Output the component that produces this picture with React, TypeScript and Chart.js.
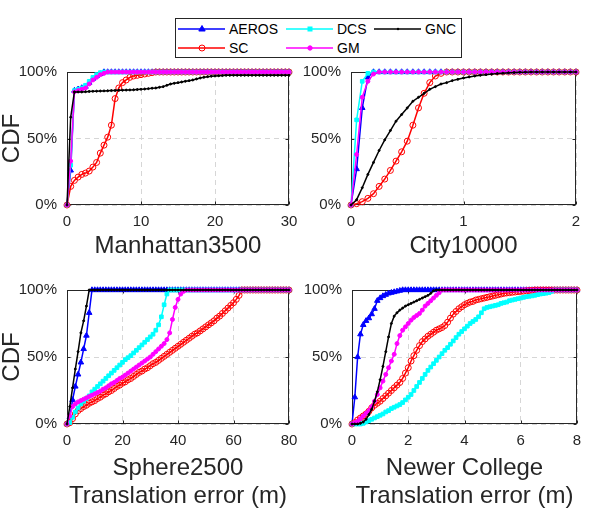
import React, { useEffect, useRef } from 'react';
import { Chart, registerables } from 'chart.js';

Chart.register(...registerables);

const FONT = '"Liberation Sans", Arial, Helvetica, sans-serif';
const TEXT = '#262626';

// ---------- tick labels ----------
const yTickValues = [0, 50, 100];

// ---------- Manhattan3500 (x: 0..30) ----------
const manhattanX = [0,0.5,1,1.5,2,2.5,3,3.5,4,4.5,5,5.5,6,6.5,7,7.5,8,8.5,9,9.5,10,10.5,11,11.5,12,12.5,13,13.5,14,14.5,15,15.5,16,16.5,17,17.5,18,18.5,19,19.5,20,20.5,21,21.5,22,22.5,23,23.5,24,24.5,25,25.5,26,26.5,27,27.5,28,28.5,29,29.5,30];
const manhattanAEROS = [0,26,86,87,88,89,92,95,97,98.5,
  100,100,100,100,100,100,100,100,100,100,
  100,100,100,100,100,100,100,100,100,100,
  100,100,100,100,100,100,100,100,100,100,
  100,100,100,100,100,100,100,100,100,100,
  100,100,100,100,100,100,100,100,100,100,
  100];
const manhattanDCS = [0,30,86,87,88,90,93,96,98,99.5,
  100,100,100,100,100,100,100,100,100,100,
  100,100,100,100,100,100,100,100,100,100,
  100,100,100,100,100,100,100,100,100,100,
  100,100,100,100,100,100,100,100,100,100,
  100,100,100,100,100,100,100,100,100,100,
  100];
const manhattanGM = [0,33,85,86,87,88,91,94,96,98,
  99,100,100,100,100,100,100,100,100,100,
  100,100,100,100,100,100,100,100,100,100,
  100,100,100,100,100,100,100,100,100,100,
  100,100,100,100,100,100,100,100,100,100,
  100,100,100,100,100,100,100,100,100,100,
  100];
const manhattanSC = [0,14,18.5,21,23,24,25.5,28.5,32,39,
  45,51,60,80,88,92,94,96,97,97.5,
  98,98.5,99,99.5,100,100,100,100,100,100,
  100,100,100,100,100,100,100,100,100,100,
  100,100,100,100,100,100,100,100,100,100,
  100,100,100,100,100,100,100,100,100,100,
  100];
const manhattanGNC = [0,66,85,85,85,85.2,85.4,85.5,85.6,85.7,
  85.8,85.9,86,86.1,86.2,86.3,86.4,86.5,86.6,86.8,
  87,87.2,87.5,87.8,88,88.5,89,90,91,91.5,
  92,92.5,93,93.5,94,94.8,95.5,96,96.5,96.8,
  97,97.2,97.3,97.5,97.5,97.5,97.5,97.5,97.5,97.5,
  97.5,97.5,97.5,97.5,97.5,97.5,97.5,97.5,97.5,97.5,
  97.5];

// ---------- City10000 (x: 0..2) ----------
const cityX = [0,0.05,0.1,0.15,0.2,0.25,0.3,0.35,0.4,0.45,0.5,0.55,0.6,0.65,0.7,0.75,0.8,0.85,0.9,0.95,1,1.05,1.1,1.15,1.2,1.25,1.3,1.35,1.4,1.45,1.5,1.55,1.6,1.65,1.7,1.75,1.8,1.85,1.9,1.95,2];
const cityAEROS = [0,27,73,96,100,100,100,100,100,100,
  100,100,100,100,100,100,100,100,100,100,
  100,100,100,100,100,100,100,100,100,100,
  100,100,100,100,100,100,100,100,100,100,
  100];
const cityDCS = [0,64,93,99,100,100,100,100,100,100,
  100,100,100,100,100,100,100,100,100,100,
  100,100,100,100,100,100,100,100,100,100,
  100,100,100,100,100,100,100,100,100,100,
  100];
const cityGM = [0,38,81,93,98.5,100,100,100,100,100,
  100,100,100,100,100,100,100,100,100,100,
  100,100,100,100,100,100,100,100,100,100,
  100,100,100,100,100,100,100,100,100,100,
  100];
const citySC = [0,1,2.5,5,8.5,14,19.5,26,33,40,
  48,60,73,84,92,97,99,100,100,100,
  100,100,100,100,100,100,100,100,100,100,
  100,100,100,100,100,100,100,100,100,100,
  100];
const cityGNC = [0,4,13,23,32,41,49,56,63,68,
  73,78,81,84,87,89,91,92,93.5,94.5,
  95.5,96.3,97,97.5,98,98.4,98.8,99.1,99.4,99.6,
  99.8,99.9,100,100,100,100,100,100,100,100,
  100];

// ---------- Sphere2500 (x: 0..80) ----------
const sphereX = [0,1,2,3,4,5,6,7,8,9,10,11,12,13,14,15,16,17,18,19,20,21,22,23,24,25,26,27,28,29,30,31,32,33,34,35,36,37,38,39,40,41,42,43,44,45,46,47,48,49,50,51,52,53,54,55,56,57,58,59,60,61,62,63,64,65,66,67,68,69,70,71,72,73,74,75,76,77,78,79,80];
const sphereAEROS = [0,5,18,28,37,46,56,66,83,100,
  100,100,100,100,100,100,100,100,100,100,
  100,100,100,100,100,100,100,100,100,100,
  100,100,100,100,100,100,100,100,100,100,
  100,100,100,100,100,100,100,100,100,100,
  100,100,100,100,100,100,100,100,100,100,
  100,100,100,100,100,100,100,100,100,100,
  100,100,100,100,100,100,100,100,100,100,
  100];
const sphereDCS = [0,1,5,9,12,15,17,19,21,24,
  26,28,30,32,34,36,38,40,42,44,
  46,48,49.5,51,53,55,57,59,61,63,
  65,67,70,74,80,89,97,100,100,100,
  100,100,100,100,100,100,100,100,100,100,
  100,100,100,100,100,100,100,100,100,100,
  100,100,100,100,100,100,100,100,100,100,
  100,100,100,100,100,100,100,100,100,100,
  100];
const sphereGM = [0,6,13,15,16.5,17.5,18.5,19.5,20.5,21.5,
  22.5,23.5,24.5,26,27,28.5,30,31,32.5,34,
  35,36.5,38,39.5,41,42.5,44,45.5,47,48.5,
  50,52,54,56,58,60,63,68,78,87,
  93,97,99,100,100,100,100,100,100,100,
  100,100,100,100,100,100,100,100,100,100,
  100,100,100,100,100,100,100,100,100,100,
  100,100,100,100,100,100,100,100,100,100,
  100];
const sphereSC = [0,1,4,7.5,10,11.5,13,14,15.5,16.5,
  17.5,19,20,21.5,22.5,24,25,26.5,28,29,
  30.5,31.5,33,34,35.5,37,38.5,39.5,41,42,
  43.5,45,46,47.5,49,50.5,52,53.5,55,56.5,
  58,59.5,61,62.5,64,65.5,67,68,69.5,71,
  72.5,74,75.5,77,79,80.5,82.5,84.5,86.5,88.5,
  90.5,93,96,100,100,100,100,100,100,100,
  100,100,100,100,100,100,100,100,100,100,
  100];
const sphereGNC = [0,13,27,41,54,68,77,88,100,100,
  100,100,100,100,100,100,100,100,100,100,
  100,100,100,100,100,100,100,100,100,100,
  100,100,100,100,100,100,100,100,100,100,
  100,100,100,100,100,100,100,100,100,100,
  100,100,100,100,100,100,100,100,100,100,
  100,100,100,100,100,100,100,100,100,100,
  100,100,100,100,100,100,100,100,100,100,
  100];

// ---------- Newer College (x: 0..8) ----------
const newerX = [0,0.1,0.2,0.3,0.4,0.5,0.6,0.7,0.8,0.9,1,1.1,1.2,1.3,1.4,1.5,1.6,1.7,1.8,1.9,2,2.1,2.2,2.3,2.4,2.5,2.6,2.7,2.8,2.9,3,3.1,3.2,3.3,3.4,3.5,3.6,3.7,3.8,3.9,4,4.1,4.2,4.3,4.4,4.5,4.6,4.7,4.8,4.9,5,5.1,5.2,5.3,5.4,5.5,5.6,5.7,5.8,5.9,6,6.1,6.2,6.3,6.4,6.5,6.6,6.7,6.8,6.9,7,7.1,7.2,7.3,7.4,7.5,7.6,7.7,7.8,7.9,8];
const newerAEROS = [0,20,50,67,74,77,79,82,86,92,
  94,95.5,96.5,97.5,98,98.5,99,99.5,100,100,
  100,100,100,100,100,100,100,100,100,100,
  100,100,100,100,100,100,100,100,100,100,
  100,100,100,100,100,100,100,100,100,100,
  100,100,100,100,100,100,100,100,100,100,
  100,100,100,100,100,100,100,100,100,100,
  100,100,100,100,100,100,100,100,100,100,
  100];
const newerDCS = [0,0,0,0,0.5,1.5,2.5,3.5,4.5,5.5,
  6.5,7.5,9,10,11.5,12.5,13.5,14.5,16,18,
  20,22,25,28,31,34,37,40,42.5,45,
  47.5,50,52.5,55,57,59.5,62,64.5,67,69,
  71,73,75,76.5,78,80,83,86,87,87.5,
  88,88.5,89,90,90.5,91,92,92.5,93,93.5,
  94,94.5,95,95.3,95.6,96,96.5,97,97.3,97.6,
  98,99,100,100,100,100,100,100,100,100,
  100];
const newerGM = [0,1,2,4,6,8,10,13,17,22,
  27,32,37,42,47,52,60,66,70,72.5,
  75,77.5,79.5,81,82.5,85,88,90,92,94,
  96,98,100,100,100,100,100,100,100,100,
  100,100,100,100,100,100,100,100,100,100,
  100,100,100,100,100,100,100,100,100,100,
  100,100,100,100,100,100,100,100,100,100,
  100,100,100,100,100,100,100,100,100,100,
  100];
const newerSC = [0,1,3,4.5,6,7.5,9.5,12,14,15.5,
  17,19,21,23,25,27,29,31,34,38,
  42,47,51,55,58.5,61.5,63.5,65.5,67,68.5,
  70,71,72,73.5,76,79,82,84,86,87.5,
  89,90,91,91.5,92.5,93,93.5,94,94.5,95,
  95.5,96,96.5,97,97.5,97.8,98,98.3,98.5,98.8,
  99,99.2,99.4,99.6,99.8,100,100,100,100,100,
  100,100,100,100,100,100,100,100,100,100,
  100];
const newerGNC = [0,0,0,0.5,1.5,3.5,7,11,17,24,
  33,43,54,65,75,80.5,83,85,86.5,88,
  89,90,91,92,93,94,95,96,97.5,99.5,
  100,100,100,100,100,100,100,100,100,100,
  100,100,100,100,100,100,100,100,100,100,
  100,100,100,100,100,100,100,100,100,100,
  100,100,100,100,100,100,100,100,100,100,
  100,100,100,100,100,100,100,100,100,100,
  100];

// ---------- series styles ----------
const STYLES: Record<string, any> = {
  AEROS: { color: '#0000ff', shape: 'triangle', r: 3.2, fill: true, order: 4 },
  SC: { color: '#ff0000', shape: 'circle', r: 3, fill: false, order: 3 },
  DCS: { color: '#00ffff', shape: 'rect', r: 2.6, fill: true, order: 2 },
  GM: { color: '#ff00ff', shape: 'circle', r: 2, fill: true, order: 1 },
  GNC: { color: '#000000', shape: 'circle', r: 1, fill: true, order: 0 },
};

function makeDataset(label: string, xs: number[], ys: number[]) {
  const st = STYLES[label];
  return {
    label,
    data: xs.map((x, i) => ({ x, y: ys[i] })),
    borderColor: st.color,
    backgroundColor: st.fill ? st.color : 'rgba(0,0,0,0)',
    pointBackgroundColor: st.fill ? st.color : 'rgba(0,0,0,0)',
    pointBorderColor: st.color,
    pointStyle: st.shape,
    pointRadius: st.r,
    pointBorderWidth: 1,
    borderWidth: 1.5,
    tension: 0,
    fill: false,
    clip: false,
    order: st.order,
  };
}

const boxPlugin = {
  id: 'matlabBox',
  beforeDatasetsDraw(chart: any) {
    const { ctx, chartArea: a, scales } = chart;
    ctx.save();
    ctx.strokeStyle = TEXT;
    ctx.lineWidth = 1;
    const l = Math.round(a.left) + 0.5;
    const r = Math.round(a.right) - 0.5;
    const t = Math.round(a.top) + 0.5;
    const b = Math.round(a.bottom) - 0.5;
    ctx.strokeRect(l, t, r - l, b - t);
    ctx.beginPath();
    scales.x.ticks.forEach((tk: any) => {
      const px = Math.round(scales.x.getPixelForValue(tk.value)) + 0.5;
      ctx.moveTo(px, b); ctx.lineTo(px, b - 3);
      ctx.moveTo(px, t); ctx.lineTo(px, t + 3);
    });
    scales.y.ticks.forEach((tk: any) => {
      const py = Math.round(scales.y.getPixelForValue(tk.value)) + 0.5;
      ctx.moveTo(l, py); ctx.lineTo(l + 3, py);
      ctx.moveTo(r, py); ctx.lineTo(r - 3, py);
    });
    ctx.stroke();
    ctx.restore();
  },
};

function zeroPad(s: any) {
  s.paddingLeft = 0;
  s.paddingRight = 0;
  s.paddingTop = 0;
  s.paddingBottom = 0;
}

type PanelProps = {
  left: number; top: number; width: number; height: number;
  pad: { top: number; right: number; bottom: number; left: number };
  yW: number; xH: number;
  xs: number[];
  series: Record<string, number[]>;
  xMax: number; xStep: number;
  title: string | string[];
  showYTitle: boolean;
};

function Panel(p: PanelProps) {
  const ref = useRef<HTMLCanvasElement>(null);
  useEffect(() => {
    const order = ['AEROS', 'SC', 'DCS', 'GM', 'GNC'];
    const chart = new Chart(ref.current as HTMLCanvasElement, {
      type: 'line',
      data: { datasets: order.map((k) => makeDataset(k, p.xs, p.series[k])) as any },
      options: {
        responsive: false,
        maintainAspectRatio: false,
        animation: false,
        events: [],
        layout: { padding: p.pad },
        plugins: { legend: { display: false }, tooltip: { enabled: false } },
        scales: {
          x: {
            type: 'linear',
            min: 0,
            max: p.xMax,
            ticks: {
              stepSize: p.xStep,
              color: TEXT,
              font: { family: FONT, size: 15 },
              padding: 8,
              maxRotation: 0,
              autoSkip: false,
            },
            grid: { color: '#d6d6d6', lineWidth: 1, drawTicks: false },
            border: { display: false, dash: [5, 4] },
            title: {
              display: true,
              text: p.title,
              color: TEXT,
              font: { family: FONT, size: 24, lineHeight: 28 / 24 },
              padding: { top: 0, bottom: 0 },
            },
            afterFit: (s: any) => { s.height = p.xH; zeroPad(s); },
          },
          y: {
            type: 'linear',
            min: 0,
            max: 100,
            afterBuildTicks: (s: any) => { s.ticks = yTickValues.map((v) => ({ value: v })); },
            ticks: {
              color: TEXT,
              font: { family: FONT, size: 15 },
              padding: 10,
              callback: (v: any) => v + '%',
            },
            grid: { color: '#d6d6d6', lineWidth: 1, drawTicks: false },
            border: { display: false, dash: [5, 4] },
            title: {
              display: p.showYTitle,
              text: 'CDF',
              color: TEXT,
              font: { family: FONT, size: 24, lineHeight: 1 },
              padding: { top: 0, bottom: 0 },
            },
            afterFit: (s: any) => { s.width = p.yW; zeroPad(s); },
          },
        },
      } as any,
      plugins: [boxPlugin],
    });
    return () => chart.destroy();
  }, []);
  return (
    <canvas
      ref={ref}
      width={p.width}
      height={p.height}
      style={{ position: 'absolute', left: p.left, top: p.top, width: p.width, height: p.height }}
    />
  );
}

const LEGEND_ITEMS = [
  { label: 'AEROS', x: 3, y: 11 },
  { label: 'DCS', x: 111, y: 11 },
  { label: 'GNC', x: 199, y: 11 },
  { label: 'SC', x: 3, y: 30 },
  { label: 'GM', x: 111, y: 30 },
];

function Marker({ name, cx, cy }: { name: string; cx: number; cy: number }) {
  const st = STYLES[name];
  if (name === 'AEROS') {
    return <polygon points={`${cx},${cy - 3.5} ${cx + 3.2},${cy + 2} ${cx - 3.2},${cy + 2}`} fill={st.color} stroke={st.color} strokeWidth={1} />;
  }
  if (name === 'SC') return <circle cx={cx} cy={cy} r={3} fill="none" stroke={st.color} strokeWidth={1} />;
  if (name === 'DCS') return <rect x={cx - 2} y={cy - 2} width={4} height={4} fill={st.color} stroke={st.color} strokeWidth={1} />;
  if (name === 'GM') return <circle cx={cx} cy={cy} r={2.2} fill={st.color} stroke={st.color} strokeWidth={1} />;
  return <circle cx={cx} cy={cy} r={1.2} fill={st.color} />;
}

function Legend() {
  return (
    <svg width={288} height={41} style={{ position: 'absolute', left: 175, top: 18 }}>
      <rect x={0.5} y={0.5} width={286} height={39} fill="#ffffff" stroke={TEXT} strokeWidth={1} />
      {LEGEND_ITEMS.map((it) => (
        <g key={it.label}>
          <line x1={it.x} x2={it.x + 47} y1={it.y} y2={it.y} stroke={STYLES[it.label].color} strokeWidth={1.5} />
          <Marker name={it.label} cx={it.x + 24} cy={it.y} />
          <text x={it.x + 51} y={it.y} dominantBaseline="central" fontFamily={FONT} fontSize={14} fill="#000">
            {it.label}
          </text>
        </g>
      ))}
    </svg>
  );
}

export default function App() {
  return (
    <div style={{ position: 'absolute', left: 0, top: 0, width: 598, height: 510, background: '#fff', overflow: 'hidden' }}>
      <Panel
        left={0} top={60} width={300} height={200}
        pad={{ top: 12, right: 11, bottom: 0, left: 0 }} yW={67} xH={55}
        xs={manhattanX}
        series={{ AEROS: manhattanAEROS, SC: manhattanSC, DCS: manhattanDCS, GM: manhattanGM, GNC: manhattanGNC }}
        xMax={30} xStep={10} title="Manhattan3500" showYTitle={true}
      />
      <Panel
        left={300} top={60} width={298} height={200}
        pad={{ top: 12, right: 22, bottom: 0, left: 0 }} yW={51} xH={55}
        xs={cityX}
        series={{ AEROS: cityAEROS, SC: citySC, DCS: cityDCS, GM: cityGM, GNC: cityGNC }}
        xMax={2} xStep={1} title="City10000" showYTitle={false}
      />
      <Panel
        left={0} top={280} width={300} height={230}
        pad={{ top: 10, right: 11, bottom: 0, left: 0 }} yW={67} xH={86}
        xs={sphereX}
        series={{ AEROS: sphereAEROS, SC: sphereSC, DCS: sphereDCS, GM: sphereGM, GNC: sphereGNC }}
        xMax={80} xStep={20} title={['Sphere2500', 'Translation error (m)']} showYTitle={true}
      />
      <Panel
        left={300} top={280} width={298} height={230}
        pad={{ top: 10, right: 21, bottom: 0, left: 0 }} yW={52} xH={86}
        xs={newerX}
        series={{ AEROS: newerAEROS, SC: newerSC, DCS: newerDCS, GM: newerGM, GNC: newerGNC }}
        xMax={8} xStep={2} title={['Newer College', 'Translation error (m)']} showYTitle={false}
      />
      <Legend />
    </div>
  );
}
